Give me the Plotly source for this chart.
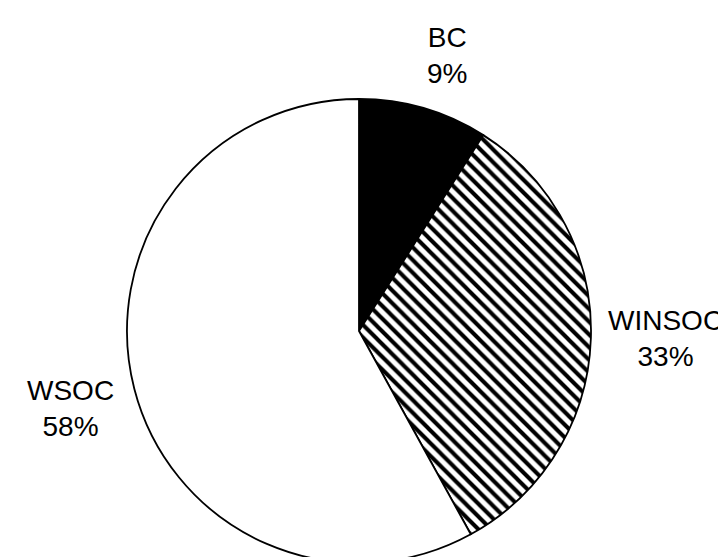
import plotly.graph_objects as go

labels = ["BC", "WINSOC", "WSOC"]
values = [9, 33, 58]
label_text = ["BC<br>9%", "WINSOC<br>33%", "WSOC<br>58%"]

W, H = 726, 557
cx, cy, r = 351, 323, 232

fig = go.Figure(go.Pie(
    labels=labels,
    values=values,
    sort=False,
    direction="clockwise",
    rotation=0,
    textinfo="none",
    showlegend=False,
    marker=dict(
        colors=["black", "white", "white"],
        line=dict(color="black", width=1.8),
        pattern=dict(
            shape=["", "\\", ""],
            fgcolor="black",
            bgcolor=["black", "white", "white"],
            size=9,
            solidity=0.45,
        ),
    ),
    domain=dict(x=[(cx - r) / W, (cx + r) / W],
                y=[(H - cy - r) / H, (H - cy + r) / H]),
))

label_pos = [(439, 47), (657, 330), (62, 400)]
for txt, (px, py) in zip(label_text, label_pos):
    fig.add_annotation(
        text=txt, x=px / W, y=1 - py / H, xref="paper", yref="paper",
        showarrow=False, xanchor="center", yanchor="middle",
        font=dict(family="Liberation Sans, Arial", size=28, color="black"),
    )

fig.update_layout(
    width=W, height=H,
    margin=dict(l=0, r=0, t=0, b=0),
    paper_bgcolor="white", plot_bgcolor="white",
)
fig.write_html("out.html")
